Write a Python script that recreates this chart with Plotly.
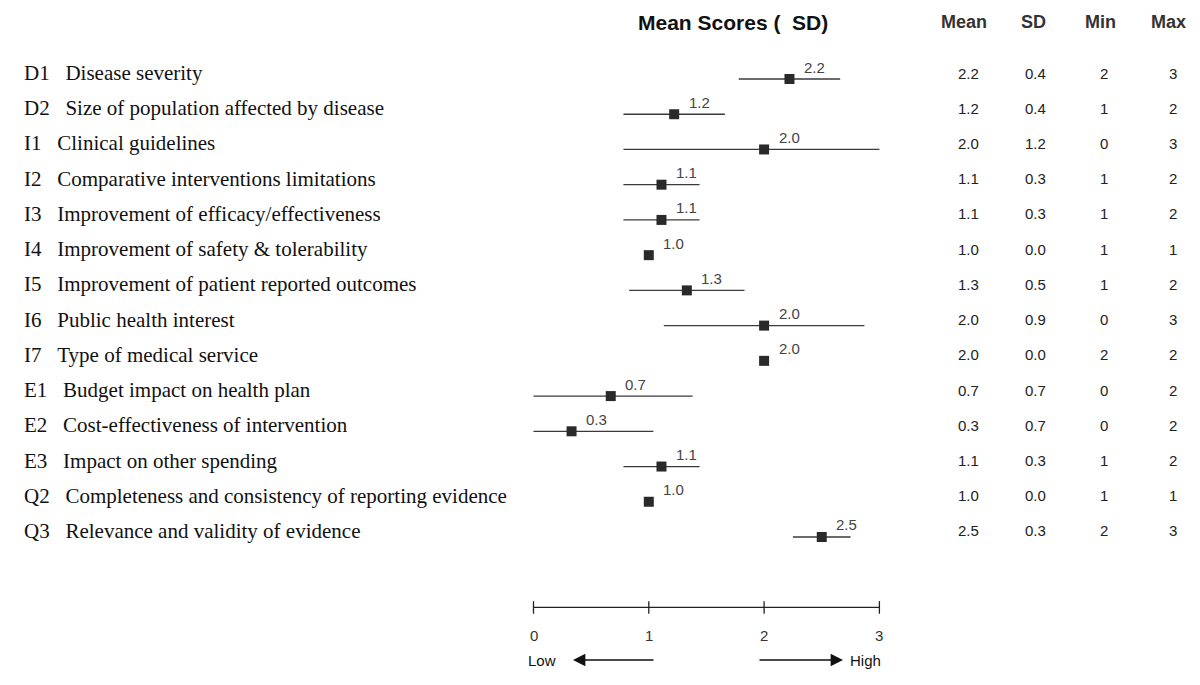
import plotly.graph_objects as go

# ---------------- data ----------------
codes = ["D1", "D2", "I1", "I2", "I3", "I4", "I5", "I6", "I7", "E1", "E2", "E3", "Q2", "Q3"]
criteria = [
    "Disease severity",
    "Size of population affected by disease",
    "Clinical guidelines",
    "Comparative interventions limitations",
    "Improvement of efficacy/effectiveness",
    "Improvement of safety & tolerability",
    "Improvement of patient reported outcomes",
    "Public health interest",
    "Type of medical service",
    "Budget impact on health plan",
    "Cost-effectiveness of intervention",
    "Impact on other spending",
    "Completeness and consistency of reporting evidence",
    "Relevance and validity of evidence",
]
mean_scores = [2.22, 1.22, 2.0, 1.11, 1.11, 1.0, 1.33, 2.0, 2.0, 0.67, 0.33, 1.11, 1.0, 2.5]
sd_scores = [0.44, 0.44, 1.22, 0.33, 0.33, 0.0, 0.5, 0.87, 0.0, 0.71, 0.71, 0.33, 0.0, 0.25]
mean_text = ["2.2", "1.2", "2.0", "1.1", "1.1", "1.0", "1.3", "2.0", "2.0", "0.7", "0.3", "1.1", "1.0", "2.5"]
sd_text = ["0.4", "0.4", "1.2", "0.3", "0.3", "0.0", "0.5", "0.9", "0.0", "0.7", "0.7", "0.3", "0.0", "0.3"]
min_scores = [2, 1, 0, 1, 1, 1, 1, 0, 2, 0, 0, 1, 1, 2]
max_scores = [3, 2, 3, 2, 2, 1, 2, 3, 2, 2, 2, 2, 1, 3]
scale_ticks = [0, 1, 2, 3]
scale_min, scale_max = 0, 3
table_headers = ["Mean", "SD", "Min", "Max"]

# ---------------- layout constants ----------------
W, H = 1200, 685          # browser window
OFF = 8                   # default page body margin
PX_PER_UNIT = 115.3
X0_PX = 533.5
ROW_PX = 35.23
ROW0_PX = 79.0

x_lo = -(X0_PX - OFF) / PX_PER_UNIT
x_hi = x_lo + (W - OFF) / PX_PER_UNIT
y_top = -(ROW0_PX - OFF) / ROW_PX
y_bot = y_top + (H - OFF) / ROW_PX


def px_to_x(px):
    return x_lo + (px - OFF) / PX_PER_UNIT


def py_to_y(py):
    return y_top + (py - OFF) / ROW_PX


rows = list(range(len(codes)))
err_plus = [min(m + s, scale_max) - m for m, s in zip(mean_scores, sd_scores)]
err_minus = [m - max(m - s, scale_min) for m, s in zip(mean_scores, sd_scores)]

fig = go.Figure()

# mean squares with SD bars
fig.add_trace(go.Scatter(
    x=mean_scores, y=rows, mode="markers",
    marker=dict(symbol="square", size=10, color="#2a2a2a"),
    error_x=dict(type="data", symmetric=False, array=err_plus, arrayminus=err_minus,
                 color="#3a3a3a", thickness=1.3, width=0),
    showlegend=False, hoverinfo="skip",
))

# bottom scale axis (line + crossing ticks)
axis_row = len(codes) + 1
fig.add_trace(go.Scatter(
    x=[scale_min, scale_max], y=[axis_row, axis_row], mode="lines",
    line=dict(color="#222", width=1.3), showlegend=False, hoverinfo="skip",
))
fig.add_trace(go.Scatter(
    x=scale_ticks, y=[axis_row] * len(scale_ticks), mode="markers",
    marker=dict(symbol="line-ns", size=9, line=dict(color="#222", width=1.3)),
    showlegend=False, hoverinfo="skip",
))

annotations = []
LEFT_FONT = dict(family="Liberation Serif", size=21, color="#111")
SANS = "Liberation Sans, Arial"
NB = "\u00a0"

for i in rows:
    # criterion labels
    annotations.append(dict(
        x=px_to_x(22), y=i, xref="x", yref="y", text=codes[i] + NB * 3 + criteria[i],
        showarrow=False, xanchor="left", yanchor="middle", yshift=6, font=LEFT_FONT,
    ))
    # value labels near marker
    annotations.append(dict(
        x=mean_scores[i], y=i, xref="x", yref="y", text=mean_text[i],
        showarrow=False, xanchor="center", yanchor="middle", xshift=25, yshift=12,
        font=dict(family=SANS, size=15, color="#444"),
    ))
    # table values
    for col_px, val in zip([968, 1035, 1104, 1173],
                           [mean_text[i], sd_text[i], str(min_scores[i]), str(max_scores[i])]):
        annotations.append(dict(
            x=px_to_x(col_px), y=i, xref="x", yref="y", text=val,
            showarrow=False, xanchor="center", yanchor="middle", yshift=6,
            font=dict(family=SANS, size=15, color="#222"),
        ))

# table headers
for col_px, hdr in zip([964, 1033, 1100, 1168], table_headers):
    annotations.append(dict(
        x=px_to_x(col_px), y=py_to_y(22), xref="x", yref="y", text="<b>%s</b>" % hdr,
        showarrow=False, xanchor="center", yanchor="middle",
        font=dict(family=SANS, size=18, color="#333"),
    ))

# title
annotations.append(dict(
    x=px_to_x(733), y=py_to_y(22), xref="x", yref="y", text="<b>Mean Scores (" + NB * 2 + "SD)</b>",
    showarrow=False, xanchor="center", yanchor="middle",
    font=dict(family=SANS, size=21, color="#111"),
))

# scale tick labels
for t in scale_ticks:
    annotations.append(dict(
        x=t, y=py_to_y(635), xref="x", yref="y", text=str(t), showarrow=False,
        xanchor="center", yanchor="middle", font=dict(family=SANS, size=15, color="#333"),
    ))

# Low / High arrows
y_lh = py_to_y(660)
annotations.append(dict(
    x=px_to_x(573), y=y_lh, ax=px_to_x(655), ay=y_lh, xref="x", yref="y", axref="x", ayref="y",
    text="", showarrow=True, arrowhead=2, arrowsize=1.9, arrowwidth=1.3, arrowcolor="#111",
))
annotations.append(dict(
    x=px_to_x(843), y=y_lh, ax=px_to_x(758), ay=y_lh, xref="x", yref="y", axref="x", ayref="y",
    text="", showarrow=True, arrowhead=2, arrowsize=1.9, arrowwidth=1.3, arrowcolor="#111",
))
annotations.append(dict(
    x=px_to_x(542), y=y_lh, xref="x", yref="y", text="Low", showarrow=False,
    xanchor="center", yanchor="middle", font=dict(family=SANS, size=15, color="#111"),
))
annotations.append(dict(
    x=px_to_x(865), y=y_lh, xref="x", yref="y", text="High", showarrow=False,
    xanchor="center", yanchor="middle", font=dict(family=SANS, size=15, color="#111"),
))

fig.update_layout(
    width=W - OFF, height=H - OFF,
    margin=dict(l=0, r=0, t=0, b=0),
    paper_bgcolor="white", plot_bgcolor="white",
    xaxis=dict(range=[x_lo, x_hi], visible=False, fixedrange=True),
    yaxis=dict(range=[y_bot, y_top], visible=False, fixedrange=True),
    annotations=annotations,
    showlegend=False,
)

fig.write_html("out.html")
